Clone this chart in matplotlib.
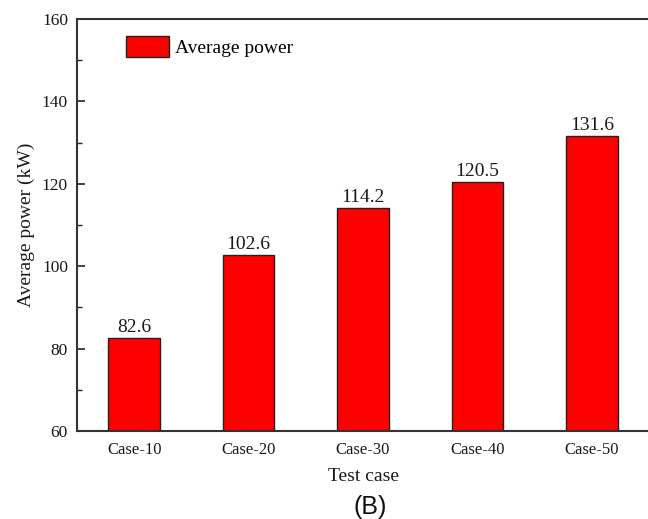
import matplotlib
matplotlib.use("Agg")
import matplotlib.pyplot as plt
from matplotlib.ticker import MultipleLocator

categories = ["Case-10", "Case-20", "Case-30", "Case-40", "Case-50"]
power = [82.6, 102.6, 114.2, 120.5, 131.6]

serif = ["Liberation Serif", "DejaVu Serif"]
ink = "#1a1a1a"

fig = plt.figure(figsize=(6.48, 5.19), dpi=100)
ax = fig.add_axes([77 / 648, 88 / 519, 572 / 648, 412 / 519])

x = list(range(1, len(categories) + 1))
ax.bar(x, power, width=0.45, bottom=0, color="#ff0000",
       edgecolor="#222222", linewidth=1.0, label="Average power")

for xi, v in zip(x, power):
    ax.annotate(f"{v:.1f}", xy=(xi, v), xytext=(0, 1.5),
                textcoords="offset points", ha="center", va="bottom",
                fontsize=14, family=serif, color=ink)

ax.set_xlim(0.5, 5.5)
ax.set_ylim(60, 160)
ax.set_xticks(x)
ax.set_xticklabels(categories, family=serif, fontsize=12)
ax.yaxis.set_major_locator(MultipleLocator(20))
ax.yaxis.set_minor_locator(MultipleLocator(10))
for lbl in ax.get_yticklabels():
    lbl.set_family(serif)
    lbl.set_fontsize(12.5)

ax.tick_params(axis="y", which="major", direction="in", length=6, width=1.2,
               pad=6.5, colors="#222222", labelcolor=ink)
ax.tick_params(axis="y", which="minor", direction="in", length=3.5, width=1.0,
               colors="#222222")
ax.tick_params(axis="x", which="both", length=0, pad=8, labelcolor=ink)

for side in ("left", "bottom", "top"):
    ax.spines[side].set_linewidth(1.5)
    ax.spines[side].set_color("#333333")
ax.spines["right"].set_visible(False)

ax.set_ylabel("Average power (kW)", family=serif, fontsize=14,
              color=ink, labelpad=5)
ax.set_xlabel("Test case", family=serif, fontsize=14, color=ink,
              labelpad=7)

ax.legend(loc="upper left", bbox_to_anchor=((126 - 77) / 572, 1 - (36 - 19) / 412),
          frameon=False, borderpad=0, borderaxespad=0,
          prop={"family": serif, "size": 14}, handlelength=2.2,
          handleheight=1.3, handletextpad=0.3)

fig.text(370 / 648, 1 - 507 / 519, "(B)", ha="center", va="center",
         family=["Liberation Sans", "DejaVu Sans"], fontsize=18,
         color="#111111")

fig.savefig("out.png", dpi=100)
